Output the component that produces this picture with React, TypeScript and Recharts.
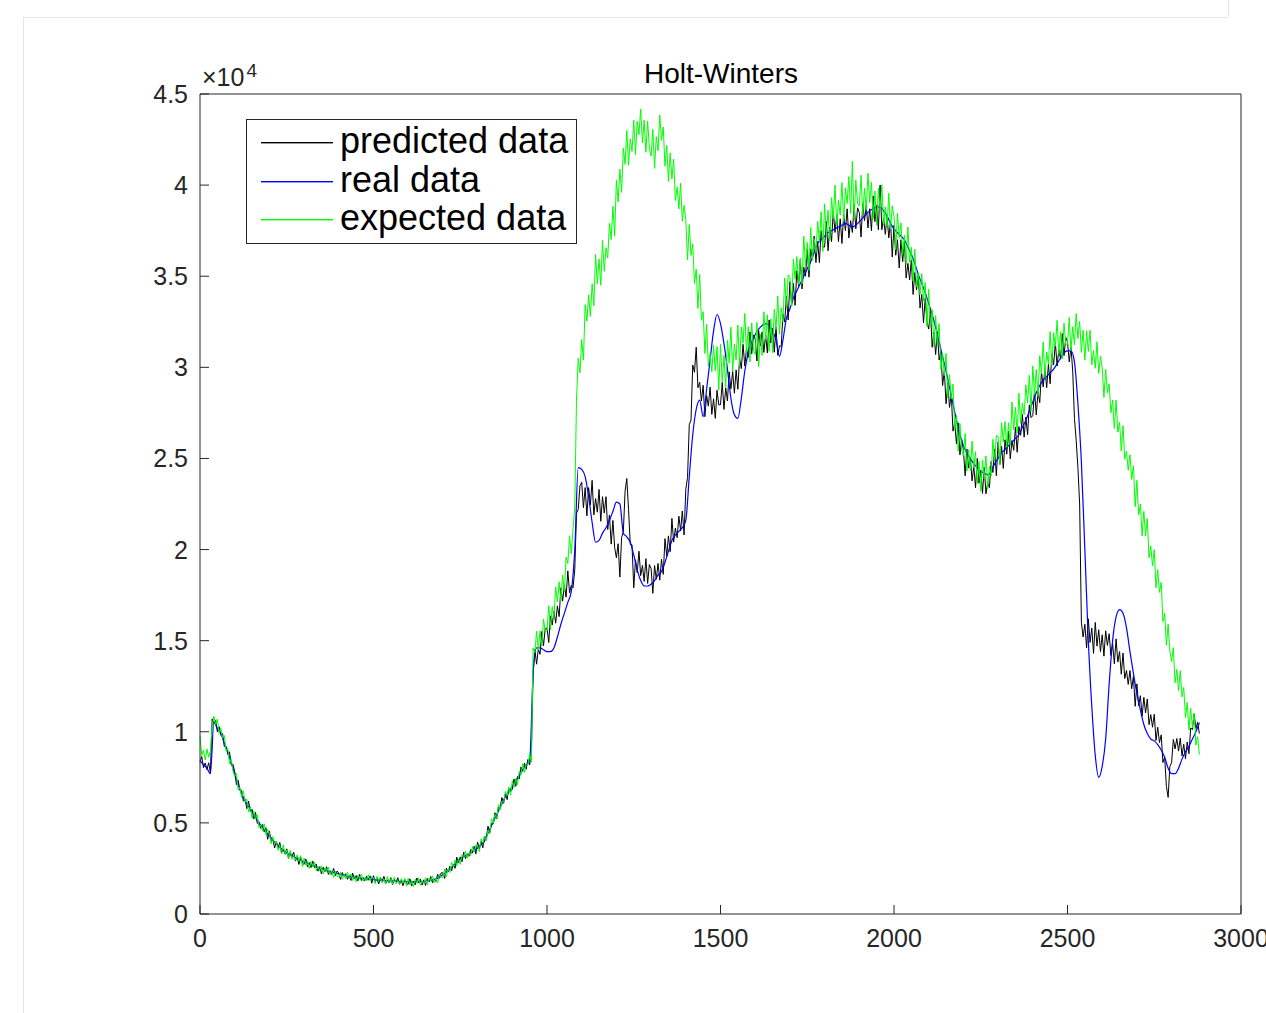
import React from 'react';
import { LineChart, Line, XAxis, YAxis, Legend } from 'recharts';

// Predicted and expected series are sampled every 5 steps, the real series every 10.
const DENSE_STEP = 5;
const REAL_STEP = 10;

const predicted = [
  8350, 8640, 8030, 8290, 7920, 8300, 7740, 10710, 10460, 10620, 10000, 10280, 9810, 9920, 9190, 9210, 8750, 8900, 8180, 8210,
  7820, 7100, 7340, 6790, 6780, 6190, 6290, 5780, 6200, 5630, 5750, 5210, 5570, 4970, 5060, 4700, 4910, 4510, 4740, 4100,
  4550, 3980, 4110, 3620, 4000, 3635, 3930, 3345, 3555, 3280, 3575, 3050, 3390, 3145, 3400, 2900, 3135, 2720, 3120, 2790,
  2725, 3020, 2575, 2825, 2550, 2900, 2550, 2745, 2350, 2600, 2200, 2570, 2325, 2595, 2175, 2370, 2175, 2500, 2100, 2355,
  2240, 1900, 2275, 2045, 2210, 1905, 2115, 1840, 2240, 1920, 2110, 1815, 2180, 1840, 1995, 1830, 2085, 1855, 2095, 1690,
  2100, 1760, 1970, 1650, 2015, 1790, 2070, 1665, 1875, 1715, 1995, 1610, 1910, 1750, 1990, 1630, 1845, 1550, 1890, 1665,
  1635, 1930, 1535, 1810, 1600, 1975, 1705, 1920, 1585, 1875, 1570, 1955, 1760, 2055, 1710, 1930, 1785, 2180, 1960, 2260,
  2260, 1950, 2515, 2315, 2610, 2360, 2730, 2505, 3120, 2810, 3135, 2865, 3395, 3040, 3305, 3165, 3540, 3340, 3715, 3300,
  3940, 3560, 3980, 3630, 4275, 4155, 4820, 4445, 4965, 4940, 5555, 5210, 5860, 5835, 6390, 6075, 6595, 6280, 6890, 6720,
  6840, 7405, 7010, 7545, 7410, 8070, 7835, 8275, 7945, 8480, 8180, 8840, 13190, 14530, 13710, 14540, 14250, 15500, 14720, 15690,
  15680, 14900, 16360, 15860, 16620, 15960, 16910, 16320, 17900, 17170, 18050, 17390, 18830, 17630, 18040, 17900, 18890, 22000, 22200, 23500,
  23700, 22300, 23400, 21850, 23400, 22450, 23800, 21900, 22800, 22050, 23300, 21550, 22900, 22000, 22900, 21100, 21900, 20300, 21600, 20100,
  19550, 20320, 18490, 20670, 20960, 23200, 23900, 22200, 20280, 20260, 17900, 19440, 18730, 19910, 18570, 19130, 18250, 19500, 18140, 19180,
  18960, 17600, 19120, 18370, 19240, 18320, 19470, 18640, 20600, 19640, 20750, 19880, 21710, 20410, 21180, 20650, 21830, 21030, 22120, 20800,
  23310, 23960, 26860, 27100, 30130, 29730, 31100, 28880, 29180, 28150, 29020, 27290, 28450, 27870, 28910, 27420, 28270, 27200, 28740, 27940,
  27950, 29170, 27690, 28870, 28160, 29750, 28820, 29780, 28580, 29860, 28800, 30490, 29930, 31260, 30070, 31030, 30550, 31950, 30740, 31780,
  31560, 30350, 32020, 31170, 31940, 30820, 31770, 30790, 32600, 31340, 32150, 30830, 32210, 30660, 31180, 31150, 32930, 32480, 33920, 32600,
  34700, 33400, 34600, 33400, 35300, 34450, 35900, 34300, 35500, 35000, 36500, 34950, 36500, 35950, 37200, 35750, 36900, 35750, 37500, 36600,
  36600, 38000, 36400, 37700, 36900, 38550, 37400, 38350, 36900, 38150, 36800, 38400, 37500, 38700, 37100, 38050, 37400, 38950, 37600, 38750,
  38500, 37150, 39000, 38050, 38900, 37650, 38700, 37500, 39400, 38000, 38900, 37550, 40000, 37550, 38200, 37300, 38300, 37100, 38000, 36050,
  37800, 36150, 37000, 35450, 37000, 35800, 36900, 34900, 35700, 34800, 35900, 34000, 35200, 34250, 35100, 33250, 34000, 32450, 33800, 32500,
  32100, 33100, 31100, 31950, 30700, 31950, 30400, 30900, 29000, 29800, 28000, 29150, 27800, 28550, 26500, 26950, 25800, 26950, 25200, 26050,
  25460, 24050, 25520, 24470, 25040, 23770, 24570, 23390, 25000, 23640, 24350, 23080, 24510, 23060, 23680, 23400, 24830, 24230, 25520, 24050,
  25910, 24660, 25660, 24450, 26030, 25230, 26500, 24980, 25980, 25450, 26720, 25340, 26750, 26270, 27410, 26170, 27270, 26300, 27940, 27240,
  27350, 28720, 27390, 28670, 28060, 29750, 28920, 29980, 28880, 30160, 29100, 30740, 30130, 31360, 30070, 30980, 30450, 31850, 30640, 31630,
  31400, 30300, 31100, 29800, 27200, 26000, 24500, 22500, 16000, 15200, 15900, 14600, 16200, 14900, 15700, 14300, 16000, 14700, 15600, 14400,
  15320, 14150, 15540, 14740, 15380, 14190, 14840, 13730, 15100, 13830, 14400, 13160, 14320, 12920, 13360, 12600, 13360, 12360, 13040, 11400,
  12630, 11430, 11980, 10850, 11890, 11040, 11800, 10390, 10940, 10250, 10960, 9520, 10250, 9410, 9830, 8310, 8610, 7000, 6400, 8100,
  8300, 9580, 9060, 9630, 8940, 9650, 8680, 9320, 8520, 9440, 8800, 10210, 10120, 10990, 10180, 10520, 9900,
];

const real = [
  8400, 8200, 8000, 7700, 10500, 10200, 9900, 9400, 8900, 8300,
  7700, 7100, 6600, 6200, 5900, 5600, 5300, 5000, 4750, 4500,
  4300, 4050, 3850, 3650, 3500, 3350, 3250, 3150, 3050, 2950,
  2850, 2780, 2700, 2620, 2550, 2480, 2420, 2360, 2300, 2250,
  2200, 2150, 2100, 2060, 2030, 2000, 1970, 1950, 1930, 1910,
  1890, 1870, 1860, 1850, 1830, 1820, 1810, 1800, 1790, 1780,
  1770, 1760, 1760, 1770, 1780, 1800, 1830, 1870, 1920, 2020,
  2150, 2300, 2450, 2650, 2850, 3000, 3150, 3250, 3350, 3480,
  3620, 3800, 4000, 4450, 4850, 5250, 5650, 6050, 6450, 6700,
  7000, 7300, 7600, 7900, 8200, 8400, 13200, 14600, 14600, 14500,
  14400, 14400, 14600, 15200, 15900, 16500, 17100, 17700, 20000, 24500,
  24400, 24000, 22900, 21500, 20400, 20500, 20900, 21200, 21600, 22100,
  22600, 22500, 20900, 20700, 20400, 19700, 18900, 18300, 18000, 18000,
  18100, 18300, 18600, 18800, 19300, 19900, 20500, 20800, 21000, 21200,
  21600, 24000, 26300, 27700, 28200, 27300, 28800, 30400, 32000, 32900,
  32400, 31300, 29900, 28300, 27400, 27200, 28300, 29800, 30800, 31400,
  31800, 32100, 32300, 32400, 32300, 32000, 31500, 30600, 31500, 32700,
  33200, 33800, 34200, 34600, 35000, 35400, 35800, 36300, 36800, 37000,
  37200, 37400, 37500, 37600, 37700, 37800, 37900, 37800, 37700, 37800,
  38000, 38200, 38400, 38600, 38700, 38800, 38800, 38600, 38300, 37900,
  37600, 37400, 37200, 37000, 36600, 36200, 35700, 35100, 34600, 34100,
  33500, 32900, 32200, 31400, 30600, 29800, 28900, 28000, 27100, 26300,
  25700, 25300, 25000, 24700, 24500, 24300, 24200, 24100, 24300, 24700,
  25000, 25300, 25500, 25700, 25900, 26100, 26300, 26700, 27100, 27600,
  28100, 28600, 29000, 29300, 29500, 29700, 29900, 30200, 30500, 30800,
  30900, 30900, 30300, 28000, 24800, 20000, 15000, 11400, 8700, 7500,
  8100, 9600, 12600, 15000, 16300, 16700, 16500, 15700, 14400, 13200,
  12100, 11200, 10400, 9900, 9600, 9500, 9300, 9000, 8600, 8000,
  7700, 7700, 8000, 8500, 8900, 9200, 9600, 10000, 10500,
];

const expected = [
  9800, 8700, 9000, 8450, 9050, 8600, 8950, 10300, 10850, 10400, 10700, 9900, 10200, 9650, 9800, 8950, 9100, 8250, 8500, 7850,
  7550, 7700, 6800, 6950, 6400, 6750, 6150, 6300, 5600, 5900, 5250, 5650, 5200, 5450, 4750, 4900, 4550, 4950, 4350, 4650,
  4400, 3850, 4250, 3850, 4000, 3500, 3750, 3300, 3800, 3300, 3500, 3050, 3500, 3000, 3200, 2950, 3250, 2900, 3200, 2600,
  3080, 2670, 2900, 2500, 2880, 2580, 2850, 2370, 2600, 2380, 2650, 2200, 2530, 2320, 2580, 2150, 2380, 2000, 2350, 2080,
  2030, 2300, 1900, 2160, 1940, 2290, 2000, 2200, 1840, 2100, 1770, 2130, 1910, 2180, 1790, 1990, 1820, 2150, 1830, 2070,
  1990, 1660, 2070, 1830, 2000, 1700, 1920, 1640, 2060, 1740, 1940, 1630, 2010, 1660, 1840, 1670, 1940, 1700, 1950, 1530,
  1960, 1600, 1840, 1500, 1910, 1680, 1990, 1570, 1820, 1670, 1990, 1600, 1950, 1800, 2090, 1720, 1970, 1710, 2200, 2000,
  2010, 2450, 2050, 2460, 2280, 2830, 2600, 2950, 2630, 3030, 2720, 3250, 3070, 3450, 3060, 3360, 3210, 3700, 3390, 3770,
  3780, 3420, 4120, 3890, 4250, 4020, 4600, 4400, 5230, 4970, 5470, 5240, 6000, 5700, 6170, 6140, 6730, 6500, 6970, 6520,
  7320, 6940, 7440, 7100, 7850, 7650, 8250, 7770, 8270, 8180, 8780, 8340, 14600, 14340, 15520, 14490, 15540, 14700, 16180, 15530,
  15550, 16920, 15590, 16870, 16260, 17950, 17120, 18230, 17180, 18610, 17700, 19590, 19230, 20760, 19770, 21130, 22300, 28200, 30500, 29700,
  31520, 30400, 33440, 32540, 33980, 32790, 34590, 33380, 36200, 34580, 35950, 34510, 36970, 35270, 36560, 36000, 37910, 37010, 38840, 37200,
  40280, 39080, 40880, 39600, 42040, 41140, 43000, 41090, 42540, 41850, 43560, 41670, 43500, 42760, 44180, 42310, 43560, 41800, 43520, 42020,
  41600, 43060, 40920, 42660, 41880, 43850, 42460, 43190, 41040, 42180, 40200, 41770, 40340, 41430, 39160, 39890, 38700, 40100, 38020, 38890,
  38120, 35900, 37840, 36140, 36780, 34590, 35390, 33230, 35100, 32580, 33050, 30760, 32370, 30070, 30760, 29750, 31210, 29810, 31140, 28750,
  31260, 29210, 30660, 28900, 31480, 30230, 32200, 29780, 31280, 30400, 32320, 30090, 32200, 31320, 32960, 30770, 32220, 30300, 32440, 30940,
  30700, 32470, 30040, 31820, 30660, 33050, 31520, 32880, 30880, 32660, 30800, 33190, 32080, 33910, 31820, 33280, 32500, 34900, 33240, 35080,
  34920, 33350, 35940, 34840, 36080, 34540, 35990, 34580, 37200, 35530, 36850, 35310, 37670, 35870, 37060, 36300, 38010, 36910, 38540, 36350,
  38970, 37170, 38620, 36950, 39310, 38160, 40000, 37760, 39160, 38350, 40140, 37980, 39850, 38990, 40470, 38440, 41300, 38150, 40280, 38980,
  38850, 40540, 38330, 39840, 38620, 40650, 39040, 40160, 38160, 39670, 37800, 39830, 38610, 40020, 37790, 38810, 37750, 39550, 37580, 38860,
  38280, 36450, 38460, 37110, 37920, 36210, 37260, 35620, 37700, 35770, 36600, 34740, 36480, 34430, 35140, 34000, 35140, 33640, 34660, 32250,
  34280, 32230, 33180, 31150, 32840, 31240, 32400, 29890, 30740, 29550, 30760, 28320, 29600, 28260, 29080, 26660, 27360, 25400, 26920, 25470,
  25150, 26380, 24310, 25480, 24340, 25950, 24480, 25370, 23620, 24840, 23200, 24910, 23870, 25140, 23330, 24570, 24050, 26050, 24860, 26270,
  26180, 24650, 26960, 25910, 27020, 25610, 26960, 25670, 28100, 26570, 27800, 26390, 28580, 26930, 28040, 27400, 29040, 28040, 29560, 27600,
  30080, 28480, 29880, 28400, 30640, 29640, 31400, 29440, 30840, 30200, 31960, 30070, 31900, 31160, 32580, 30710, 31960, 30450, 32420, 31270,
  31250, 32730, 30910, 32230, 31240, 32950, 31580, 32520, 30820, 32040, 30400, 32010, 30870, 32040, 30130, 30920, 29950, 31400, 29660, 30620,
  30000, 28350, 29900, 28600, 29100, 27500, 28200, 26650, 28200, 26450, 27000, 25400, 26800, 24950, 25400, 24350, 25200, 23850, 24600, 22350,
  23800, 21900, 22500, 20750, 22100, 20750, 21700, 19550, 20200, 19100, 20000, 17900, 18900, 17650, 18200, 16050, 16500, 14750, 15900, 14400,
  13850, 14620, 12690, 13420, 12260, 13350, 11920, 12430, 10780, 11610, 10100, 11290, 10230, 11010, 9270, 9730, 8750,
];

const xTicks = [0, 500, 1000, 1500, 2000, 2500, 3000];
const yTicks = [0, 5000, 10000, 15000, 20000, 25000, 30000, 35000, 40000, 45000];
const yScaleExponent = 4;

const seriesKeys = ['predicted', 'real', 'expected'];
const seriesNames = ['predicted data', 'real data', 'expected data'];
const seriesColors = ['#000000', '#0000ff', '#00ff00'];

const toRows = (values: number[], step: number) => values.map((v, i) => ({ t: i * step, v }));
const seriesRows = [
  toRows(predicted, DENSE_STEP),
  toRows(real, REAL_STEP),
  toRows(expected, DENSE_STEP),
];

const FONT = '"Liberation Sans", Arial, Helvetica, sans-serif';
const AXIS_COLOR = '#262626';
const TICK_LEN = 9;
const TICK_FONT = 25;

const fmtY = (v: number) => String(v / Math.pow(10, yScaleExponent));

const BottomTick = (props: any) => {
  const { x, y, payload } = props;
  return (
    <g>
      <line x1={x} y1={y} x2={x} y2={y - TICK_LEN} stroke={AXIS_COLOR} strokeWidth={1} />
      <text x={x} y={y + 33} textAnchor="middle" fontSize={TICK_FONT} fontFamily={FONT} fill={AXIS_COLOR}>
        {payload.value}
      </text>
    </g>
  );
};

const TopTick = (props: any) => {
  const { x, y } = props;
  return <line x1={x} y1={y} x2={x} y2={y + TICK_LEN} stroke={AXIS_COLOR} strokeWidth={1} />;
};

const LeftTick = (props: any) => {
  const { x, y, payload } = props;
  return (
    <g>
      <line x1={x} y1={y} x2={x + TICK_LEN} y2={y} stroke={AXIS_COLOR} strokeWidth={1} />
      <text x={x - 12} y={y + 9} textAnchor="end" fontSize={TICK_FONT} fontFamily={FONT} fill={AXIS_COLOR}>
        {fmtY(payload.value)}
      </text>
    </g>
  );
};

const RightTick = (props: any) => {
  const { x, y } = props;
  return <line x1={x} y1={y} x2={x - TICK_LEN} y2={y} stroke={AXIS_COLOR} strokeWidth={1} />;
};

// Legend rows: sample line on the left, series name to its right.
const legendRowY = [23, 62, 100];

const LegendBox = () => (
  <svg width={331} height={125} style={{ display: 'block' }}>
    <rect x={0.5} y={0.5} width={330} height={124} fill="#ffffff" stroke={AXIS_COLOR} strokeWidth={1} />
    {seriesNames.map((name, i) => (
      <g key={name}>
        <rect x={15} y={legendRowY[i]} width={72} height={1.4} fill={seriesColors[i]} />
        <text x={94} y={legendRowY[i] + 11} fontSize={36} fontFamily={FONT} fill="#000000">
          {name}
        </text>
      </g>
    ))}
  </svg>
);

export default function App() {
  return (
    <div style={{ position: 'absolute', left: 0, top: 0, width: 1266, height: 1013, background: '#ffffff' }}>
      <svg width={1266} height={1013} style={{ position: 'absolute', left: 0, top: 0 }}>
        <line x1={23.5} y1={17} x2={23.5} y2={1013} stroke="#e6e6e6" strokeWidth={1} />
        <line x1={23} y1={17.5} x2={1228} y2={17.5} stroke="#e6e6e6" strokeWidth={1} />
        <line x1={1228.5} y1={0} x2={1228.5} y2={17} stroke="#e6e6e6" strokeWidth={1} />
      </svg>
      <div style={{ position: 'absolute', left: 0, top: 0 }}>
        <LineChart width={1266} height={1013} margin={{ top: 74, right: 5, bottom: 69, left: 140 }}>
          <XAxis
            dataKey="t"
            type="number"
            domain={[0, 3000]}
            ticks={xTicks}
            interval={0}
            height={30}
            tickSize={0}
            tickMargin={0}
            tickLine={false}
            tick={<BottomTick />}
            axisLine={{ stroke: AXIS_COLOR, strokeWidth: 1 }}
          />
          <XAxis
            xAxisId="top"
            orientation="top"
            dataKey="t"
            type="number"
            domain={[0, 3000]}
            ticks={xTicks}
            interval={0}
            height={20}
            tickSize={0}
            tickMargin={0}
            tickLine={false}
            tick={<TopTick />}
            axisLine={{ stroke: AXIS_COLOR, strokeWidth: 1 }}
          />
          <YAxis
            type="number"
            domain={[0, 45000]}
            ticks={yTicks}
            interval={0}
            width={60}
            tickSize={0}
            tickMargin={0}
            tickLine={false}
            tick={<LeftTick />}
            axisLine={{ stroke: AXIS_COLOR, strokeWidth: 1 }}
          />
          <YAxis
            yAxisId="right"
            orientation="right"
            type="number"
            domain={[0, 45000]}
            ticks={yTicks}
            interval={0}
            width={20}
            tickSize={0}
            tickMargin={0}
            tickLine={false}
            tick={<RightTick />}
            axisLine={{ stroke: AXIS_COLOR, strokeWidth: 1 }}
          />
          <Legend
            layout="vertical"
            verticalAlign="middle"
            align="center"
            content={<LegendBox />}
            wrapperStyle={{ left: 246, top: 119, width: 331, height: 125 }}
          />
          {seriesKeys.map((key, i) => (
            <Line
              key={key}
              data={seriesRows[i]}
              dataKey="v"
              name={seriesNames[i]}
              type={key === 'real' ? 'monotone' : 'linear'}
              stroke={seriesColors[i]}
              strokeWidth={key === 'real' ? 1.2 : 1}
              dot={false}
              activeDot={false}
              isAnimationActive={false}
            />
          ))}
        </LineChart>
      </div>
      <svg width={1266} height={110} style={{ position: 'absolute', left: 0, top: 0, pointerEvents: 'none' }}>
        <text x={721} y={83} textAnchor="middle" fontSize={28} fontFamily={FONT} fill="#000000">
          Holt-Winters
        </text>
        <text x={202} y={86} fontSize={TICK_FONT} fontFamily={FONT} fill={AXIS_COLOR}>
          ×10
          <tspan dx={2} dy={-9} fontSize={19}>
            {yScaleExponent}
          </tspan>
        </text>
      </svg>
    </div>
  );
}
